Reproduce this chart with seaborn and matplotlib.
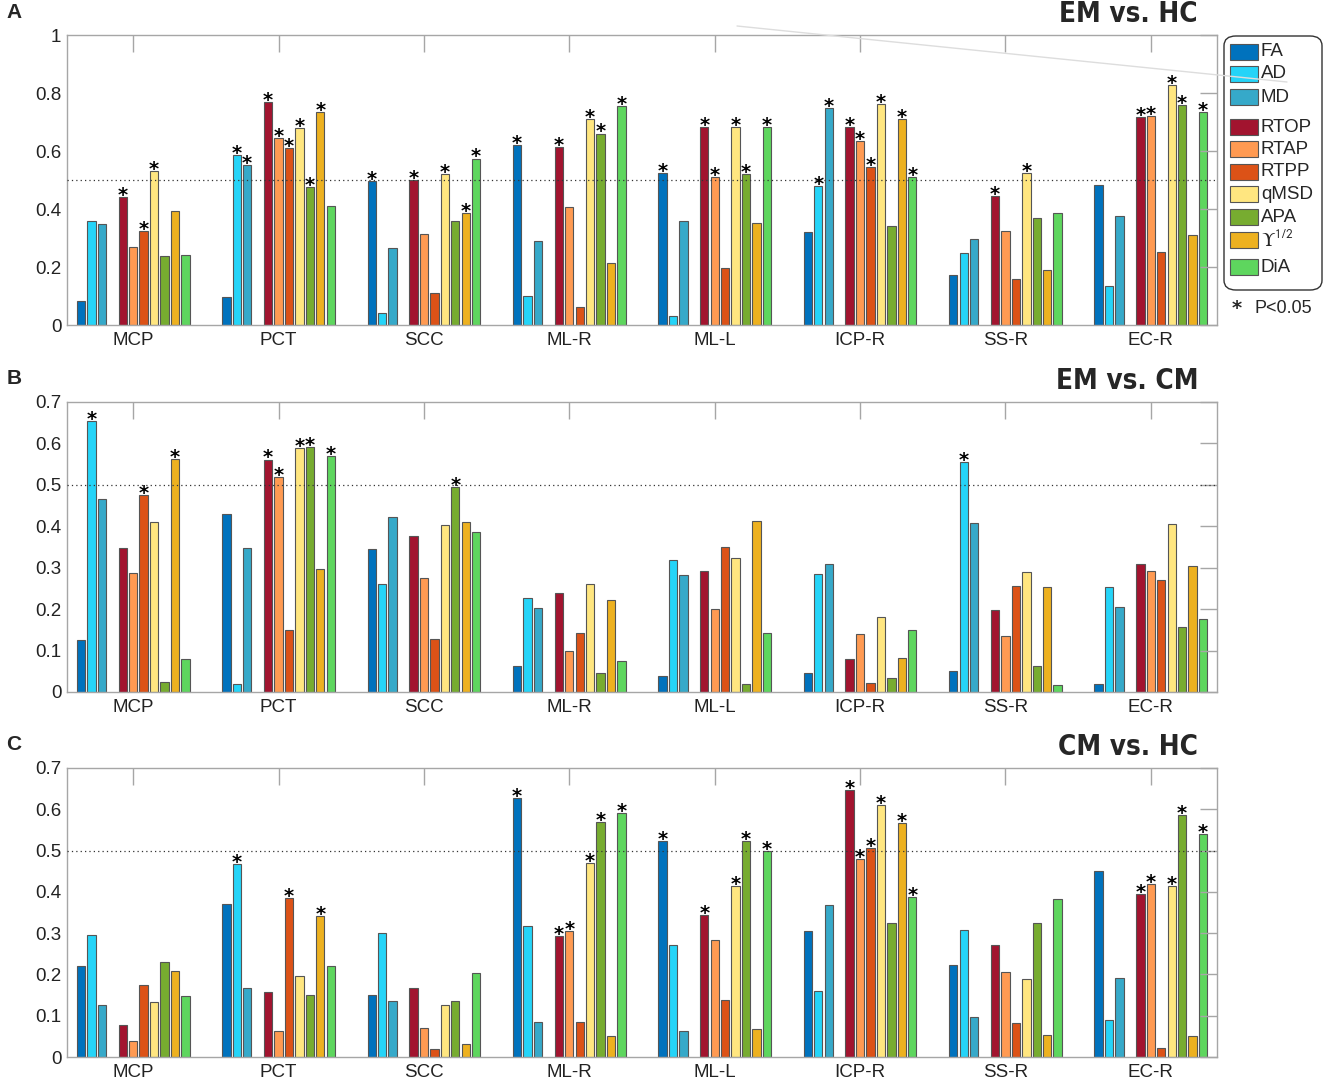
import numpy as np
import pandas as pd
import matplotlib
matplotlib.use('Agg')
import matplotlib.pyplot as plt
import seaborn as sns
from matplotlib.patches import FancyBboxPatch, Rectangle
from matplotlib.lines import Line2D

# ---- data (AUC values) ----
regions = ['MCP', 'PCT', 'SCC', 'ML-R', 'ML-L', 'ICP-R', 'SS-R', 'EC-R']
measures = ['FA', 'AD', 'MD', 'RTOP', 'RTAP', 'RTPP', 'qMSD', 'APA', 'UPS', 'DiA']
legend_labels = ['FA', 'AD', 'MD', 'RTOP', 'RTAP', 'RTPP', 'qMSD', 'APA',
                 r'$\Upsilon^{\mathsf{1/2}}$', 'DiA']

# rows = regions, columns = measures
auc_em_hc = [
    [0.083, 0.359, 0.348, 0.440, 0.268, 0.324, 0.530, 0.238, 0.394, 0.240],
    [0.095, 0.586, 0.552, 0.769, 0.645, 0.611, 0.679, 0.475, 0.734, 0.409],
    [0.497, 0.040, 0.267, 0.500, 0.314, 0.110, 0.520, 0.357, 0.386, 0.574],
    [0.621, 0.101, 0.291, 0.615, 0.406, 0.062, 0.709, 0.660, 0.214, 0.754],
    [0.523, 0.032, 0.360, 0.682, 0.509, 0.195, 0.684, 0.522, 0.352, 0.683],
    [0.322, 0.480, 0.749, 0.684, 0.634, 0.545, 0.761, 0.341, 0.710, 0.509],
    [0.172, 0.247, 0.298, 0.445, 0.325, 0.157, 0.523, 0.369, 0.190, 0.385],
    [0.482, 0.136, 0.377, 0.718, 0.722, 0.252, 0.828, 0.759, 0.310, 0.733],
]
sig_em_hc = ['0001011000', '0111111110', '1001001011', '1001001101',
             '1001101101', '0111111011', '0001001000', '0001101101']

auc_em_cm = [
    [0.126, 0.654, 0.467, 0.348, 0.287, 0.476, 0.411, 0.023, 0.562, 0.080],
    [0.430, 0.020, 0.348, 0.561, 0.518, 0.150, 0.588, 0.591, 0.298, 0.569],
    [0.344, 0.261, 0.422, 0.377, 0.274, 0.128, 0.403, 0.495, 0.410, 0.386],
    [0.062, 0.228, 0.203, 0.238, 0.100, 0.142, 0.261, 0.046, 0.222, 0.076],
    [0.038, 0.319, 0.282, 0.293, 0.200, 0.349, 0.323, 0.019, 0.413, 0.142],
    [0.046, 0.285, 0.309, 0.079, 0.140, 0.021, 0.181, 0.033, 0.082, 0.149],
    [0.051, 0.555, 0.409, 0.197, 0.134, 0.256, 0.290, 0.063, 0.253, 0.018],
    [0.019, 0.254, 0.205, 0.310, 0.291, 0.271, 0.405, 0.156, 0.304, 0.176],
]
sig_em_cm = ['0100010010', '0001101101', '0000000100', '0000000000',
             '0000000000', '0000000000', '0100000000', '0000000000']

auc_cm_hc = [
    [0.221, 0.296, 0.126, 0.078, 0.039, 0.175, 0.134, 0.230, 0.209, 0.148],
    [0.370, 0.467, 0.168, 0.157, 0.064, 0.385, 0.196, 0.150, 0.342, 0.221],
    [0.149, 0.300, 0.135, 0.168, 0.071, 0.019, 0.126, 0.136, 0.031, 0.203],
    [0.628, 0.317, 0.084, 0.293, 0.305, 0.085, 0.470, 0.569, 0.050, 0.590],
    [0.524, 0.271, 0.064, 0.344, 0.284, 0.139, 0.414, 0.523, 0.067, 0.499],
    [0.305, 0.161, 0.368, 0.647, 0.479, 0.507, 0.611, 0.325, 0.566, 0.387],
    [0.222, 0.308, 0.097, 0.271, 0.207, 0.083, 0.190, 0.324, 0.054, 0.382],
    [0.451, 0.090, 0.191, 0.395, 0.419, 0.023, 0.415, 0.587, 0.052, 0.539],
]
sig_cm_hc = ['0000000000', '0100010010', '0000000000', '1001101101',
             '1001001101', '0001111011', '0000000000', '0001101101']

panels = [
    ('A', 'EM vs. HC', auc_em_hc, sig_em_hc, 1.0, [0, 0.2, 0.4, 0.6, 0.8, 1]),
    ('B', 'EM vs. CM', auc_em_cm, sig_em_cm, 0.7, [0, 0.1, 0.2, 0.3, 0.4, 0.5, 0.6, 0.7]),
    ('C', 'CM vs. HC', auc_cm_hc, sig_cm_hc, 0.7, [0, 0.1, 0.2, 0.3, 0.4, 0.5, 0.6, 0.7]),
]

colors = ['#0072BD', '#25D4F8', '#36A9C9', '#A2142F', '#FF9A52',
          '#DC5217', '#FFE680', '#77AC30', '#EDB120', '#5ED65E']

# a blank hue level keeps the space between the DTI and MAP measures
hue_order = measures[:3] + ['gap'] + measures[3:]
palette = dict(zip(measures, colors))
palette['gap'] = 'white'

sns.set_style('white')
plt.rcParams['font.family'] = ['Liberation Sans', 'DejaVu Sans']
plt.rcParams['mathtext.fontset'] = 'stix'

title_font = ['DejaVu Sans Condensed', 'Liberation Sans Narrow', 'DejaVu Sans']

W, H = 1325, 1083
fig = plt.figure(figsize=(W / 100, H / 100), dpi=100)

# axes boxes in pixels: (top, bottom)
boxes = [(35, 325), (402, 692), (768, 1057)]
left_px, right_px = 67, 1217
group_w = 0.79
slot = group_w / len(hue_order)
spine_col = '#a6a6a6'

for (letter, title, auc, sig, ymax, yticks), (top, bot) in zip(panels, boxes):
    ax = fig.add_axes([left_px / W, 1 - bot / H, (right_px - left_px) / W, (bot - top) / H])
    rows = []
    for r, reg in enumerate(regions):
        for m, meas in enumerate(measures):
            rows.append({'region': reg, 'measure': meas, 'auc': auc[r][m]})
    df = pd.DataFrame(rows)
    sns.barplot(data=df, x='region', y='auc', hue='measure', order=regions,
                hue_order=hue_order, palette=palette, width=group_w, gap=0.2,
                saturation=1, edgecolor='#555555', linewidth=0.8, errorbar=None,
                legend=False, ax=ax)

    # significance stars above the bars
    for p in ax.patches:
        h = p.get_height()
        if not np.isfinite(h) or h <= 0:
            continue
        xc = p.get_x() + p.get_width() / 2
        g = int(round(xc))
        k = int(round((xc - g + group_w / 2) / slot - 0.5))
        meas = hue_order[k]
        if meas == 'gap':
            continue
        if sig[g][measures.index(meas)] == '1':
            ax.annotate('*', (xc, h), xytext=(0, -2.8), textcoords='offset points',
                        ha='center', va='baseline', fontsize=14, fontweight='bold',
                        family='DejaVu Sans', color='black')

    ax.axhline(0.5, ls=(0, (1, 2.5)), color='#333333', lw=0.9, zorder=3)
    ax.set_xlim(-0.455, len(regions) - 0.545)
    ax.set_ylim(0, ymax)
    ax.set_yticks(yticks)
    ax.set_yticklabels([('%g' % t) for t in yticks])
    ax.set_xlabel('')
    ax.set_ylabel('')
    ax.set_axisbelow(False)
    ax.tick_params(direction='in', length=12, width=1, color=spine_col,
                   top=True, right=True, labelsize=13.5, labelcolor='#222222', pad=4)
    ax.tick_params(axis='x', pad=5)
    for s in ax.spines.values():
        s.set_color(spine_col)
        s.set_linewidth(1)
        s.set_visible(True)

    fig.text(14 / W, 1 - (top - 23) / H, letter, ha='center', va='center',
             fontsize=15, fontweight='bold')
    fig.text(1198 / W, 1 - (top - 21) / H, title, ha='right', va='center',
             fontsize=20, fontweight='heavy', fontstretch='condensed', family=title_font)

# legend drawn as a rounded box on the right of panel A
fig.add_artist(FancyBboxPatch((1224 / W, 1 - 290 / H), 98 / W, 254 / H,
                              boxstyle='round,pad=0,rounding_size=0.009',
                              transform=fig.transFigure, facecolor='white',
                              edgecolor='#333333', lw=1.0))
entry_y = [52, 74, 97, 127, 149, 172, 194, 217, 240, 267]
for lab, col, yc in zip(legend_labels, colors, entry_y):
    fig.add_artist(Rectangle((1230 / W, 1 - (yc + 8) / H), 28 / W, 16 / H,
                             transform=fig.transFigure, facecolor=col,
                             edgecolor='#555555', lw=0.8))
    fig.text(1261 / W, 1 - yc / H, lab, ha='left', va='center', fontsize=13.5)
fig.text(1237 / W, 1 - 309 / H, '*', ha='center', va='center', fontsize=14,
         fontweight='bold', family='DejaVu Sans')
fig.text(1255 / W, 1 - 309 / H, 'P<0.05', ha='left', va='center', fontsize=13)

# faint stray line across the top right
fig.add_artist(Line2D([737 / W, 1287 / W], [1 - 26 / H, 1 - 82 / H],
                      transform=fig.transFigure, color='#dddddd', lw=1))

fig.savefig('out.png', dpi=100, facecolor='white')
